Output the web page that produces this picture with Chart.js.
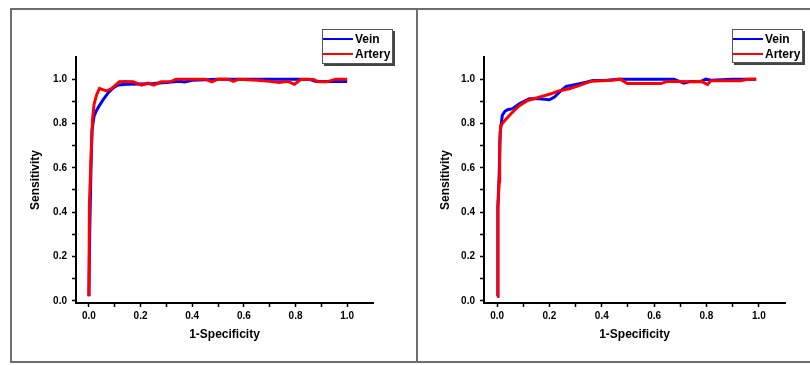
<!DOCTYPE html>
<html>
<head>
<meta charset="utf-8">
<script src="https://cdn.jsdelivr.net/npm/chart.js@4/dist/chart.umd.min.js"></script>
<style>
    body { margin: 0; background: #fff; }
    #frame { position: absolute; left: 10px; top: 8px; width: 800px; height: 355px; box-sizing: border-box;
             border-top: 2px solid #6e6e6e; border-left: 2px solid #6e6e6e; border-bottom: 2px solid #6e6e6e; }
    #divider { position: absolute; left: 416px; top: 8px; width: 2px; height: 355px; background: #6e6e6e; }
    #leftChart { position: absolute; left: 12px; top: 10px; }
    #rightChart { position: absolute; left: 418px; top: 10px; }
</style>
</head>
<body>
<div id="frame"></div>
<div id="divider"></div>
<canvas id="leftChart" width="404" height="351"></canvas>
<canvas id="rightChart" width="392" height="351"></canvas>
<script>
// left panel
const leftVeinX = [0.0, 0.003, 0.008, 0.012, 0.02, 0.03, 0.04, 0.056, 0.076, 0.095, 0.114, 0.146, 0.2, 0.25, 0.3, 0.35, 0.37, 0.4, 0.5, 0.6, 0.7, 0.8, 0.85, 0.88, 0.95, 1.0];
const leftVeinY = [0.02, 0.3, 0.6, 0.77, 0.834, 0.86, 0.88, 0.909, 0.94, 0.962, 0.974, 0.977, 0.978, 0.98, 0.985, 0.99, 0.987, 0.995, 1.0, 1.0, 1.0, 1.0, 1.0, 0.99, 0.99, 0.99];
const leftArteryX = [0.0, 0.002, 0.008, 0.014, 0.02, 0.03, 0.041, 0.056, 0.069, 0.088, 0.10, 0.118, 0.14, 0.172, 0.19, 0.204, 0.229, 0.251, 0.28, 0.319, 0.338, 0.4, 0.45, 0.476, 0.5, 0.54, 0.559, 0.58, 0.65, 0.7, 0.738, 0.77, 0.796, 0.82, 0.87, 0.89, 0.92, 0.956, 1.0];
const leftArteryY = [0.02, 0.44, 0.64, 0.82, 0.887, 0.93, 0.958, 0.952, 0.947, 0.958, 0.97, 0.988, 0.99, 0.988, 0.98, 0.973, 0.982, 0.973, 0.988, 0.99, 1.0, 1.0, 1.0, 0.988, 1.0, 1.0, 0.99, 1.0, 0.995, 0.99, 0.985, 0.99, 0.977, 0.998, 0.998, 0.988, 0.988, 1.0, 1.0];

// right panel
const rightVeinX = [0.0, 0.003, 0.008, 0.012, 0.02, 0.03, 0.04, 0.059, 0.085, 0.123, 0.161, 0.2, 0.219, 0.245, 0.264, 0.302, 0.34, 0.366, 0.42, 0.46, 0.5, 0.6, 0.675, 0.714, 0.74, 0.78, 0.797, 0.817, 0.9, 0.958, 0.99];
const rightVeinY = [0.02, 0.42, 0.57, 0.76, 0.837, 0.855, 0.862, 0.867, 0.889, 0.912, 0.912, 0.907, 0.919, 0.949, 0.967, 0.976, 0.986, 0.994, 0.995, 1.0, 1.0, 1.0, 1.0, 0.982, 0.99, 0.99, 1.0, 0.995, 1.0, 1.0, 1.0];
const rightArteryX = [0.0, 0.003, 0.008, 0.01, 0.014, 0.027, 0.053, 0.085, 0.117, 0.161, 0.206, 0.232, 0.276, 0.315, 0.36, 0.4, 0.44, 0.471, 0.497, 0.55, 0.625, 0.65, 0.7, 0.75, 0.78, 0.804, 0.817, 0.88, 0.93, 0.958, 0.99];
const rightArteryY = [0.02, 0.42, 0.54, 0.72, 0.79, 0.81, 0.844, 0.88, 0.904, 0.919, 0.934, 0.946, 0.957, 0.972, 0.991, 0.993, 0.995, 1.0, 0.98, 0.98, 0.98, 0.99, 0.99, 0.988, 0.99, 0.976, 0.993, 0.993, 0.993, 1.0, 1.0];

const seriesNames = ["Vein", "Artery"];
const tickValues = [0, 0.1, 0.2, 0.3, 0.4, 0.5, 0.6, 0.7, 0.8, 0.9, 1.0];
const xTitle = "1-Specificity";
const yTitle = "Sensitivity";

const fontFamily = '"Liberation Sans", Arial, sans-serif';
Chart.defaults.font.family = fontFamily;
Chart.defaults.color = "#000";

function toPoints(xs, ys) {
    return xs.map((x, i) => ({ x: x, y: ys[i] }));
}

// legend box like the Origin one, drawn on top of the chart
const boxLegend = {
    id: "boxLegend",
    afterDraw(chart, args, opts) {
        const ctx = chart.ctx;
        const x = opts.x, y = opts.y, w = opts.w, h = opts.h;
        ctx.save();
        ctx.fillStyle = "#444";
        ctx.fillRect(x + 2, y + 2, w, h);
        ctx.fillStyle = "#fff";
        ctx.fillRect(x, y, w, h);
        ctx.strokeStyle = "#555";
        ctx.lineWidth = 1;
        ctx.strokeRect(x + 0.5, y + 0.5, w - 1, h - 1);
        chart.data.datasets.forEach((ds, i) => {
            const ly = y + 10 + i * 15;
            ctx.strokeStyle = ds.borderColor;
            ctx.lineWidth = 2;
            ctx.beginPath();
            ctx.moveTo(x + 1, ly);
            ctx.lineTo(x + 31, ly);
            ctx.stroke();
            ctx.fillStyle = "#000";
            ctx.font = "bold 12px " + fontFamily;
            ctx.textBaseline = "middle";
            ctx.fillText(ds.label, x + 33, ly + 0.5);
        });
        ctx.restore();
    }
};

function makeChart(id, veinX, veinY, arteryX, arteryY, layout) {
    const axisGrid = {
        display: true,
        drawOnChartArea: false,
        drawTicks: true,
        tickLength: 4,
        tickWidth: 1.5,
        tickColor: "#000"
    };
    const labelEvery = (value) => Math.round(value * 10) % 2 === 0 ? value.toFixed(1) : "";

    new Chart(document.getElementById(id), {
        type: "scatter",
        data: {
            datasets: [{
                label: seriesNames[0],
                data: toPoints(veinX, veinY),
                showLine: true,
                borderColor: "#0000ff",
                borderWidth: 3,
                pointRadius: 0,
                tension: 0,
                order: 1
            }, {
                label: seriesNames[1],
                data: toPoints(arteryX, arteryY),
                showLine: true,
                borderColor: "#ff0000",
                borderWidth: 3,
                pointRadius: 0,
                tension: 0,
                order: 0
            }]
        },
        options: {
            responsive: false,
            animation: false,
            layout: { padding: { top: 47, right: layout.right, bottom: 0, left: 0 } },
            plugins: {
                legend: { display: false },
                tooltip: { enabled: false },
                boxLegend: layout.legend
            },
            scales: {
                x: {
                    type: "linear",
                    min: -0.05,
                    max: 1.1,
                    afterBuildTicks: (scale) => { scale.ticks = tickValues.map(v => ({ value: v })); },
                    afterFit: (scale) => { scale.height = 58; },
                    ticks: { autoSkip: false, maxRotation: 0, padding: 3, font: { size: 10, weight: "bold" }, callback: labelEvery },
                    grid: axisGrid,
                    border: { display: true, color: "#000", width: 2 },
                    title: { display: true, text: xTitle, font: { size: 12, weight: "bold" }, padding: { top: 0, bottom: 19 } }
                },
                y: {
                    type: "linear",
                    min: -0.01,
                    max: 1.1,
                    afterBuildTicks: (scale) => { scale.ticks = tickValues.map(v => ({ value: v })); },
                    afterFit: (scale) => { scale.width = layout.yWidth; },
                    ticks: { autoSkip: false, padding: 5, font: { size: 10, weight: "bold" }, callback: labelEvery },
                    grid: axisGrid,
                    border: { display: true, color: "#000", width: 2 },
                    title: { display: true, text: yTitle, font: { size: 12, weight: "bold" }, padding: { top: layout.titlePad, bottom: 0 } }
                }
            }
        },
        plugins: [boxLegend]
    });
}

makeChart("leftChart", leftVeinX, leftVeinY, leftArteryX, leftArteryY,
    { right: 43, yWidth: 64, titlePad: 16, legend: { x: 310, y: 19, w: 71, h: 35 } });
makeChart("rightChart", rightVeinX, rightVeinY, rightArteryX, rightArteryY,
    { right: 25, yWidth: 66, titlePad: 20, legend: { x: 314, y: 19, w: 71, h: 34 } });
</script>
</body>
</html>
